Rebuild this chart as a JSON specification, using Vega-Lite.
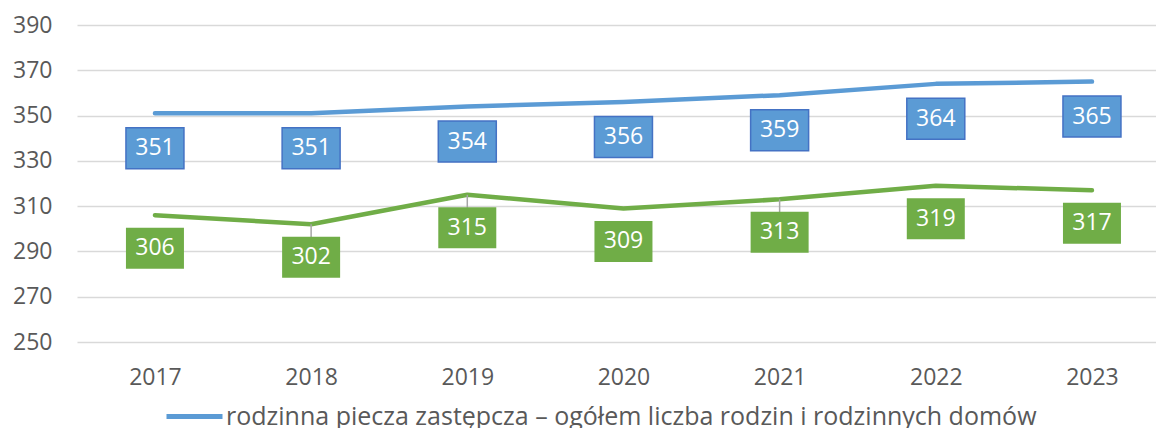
{
  "$schema": "https://vega.github.io/schema/vega-lite/v6.json",
  "autosize": {"type": "none"},
  "padding": {"left": 77, "top": 25, "right": 0, "bottom": 86},
  "width": 1079,
  "height": 317,
  "background": "white",
  "config": {"font": "Open Sans", "view": {"stroke": null}},
  "data": {"values": [
    {"year": "2017", "series": "rodzinna piecza zastępcza – ogółem liczba rodzin i rodzinnych domów", "value": 351},
    {"year": "2018", "series": "rodzinna piecza zastępcza – ogółem liczba rodzin i rodzinnych domów", "value": 351},
    {"year": "2019", "series": "rodzinna piecza zastępcza – ogółem liczba rodzin i rodzinnych domów", "value": 354},
    {"year": "2020", "series": "rodzinna piecza zastępcza – ogółem liczba rodzin i rodzinnych domów", "value": 356},
    {"year": "2021", "series": "rodzinna piecza zastępcza – ogółem liczba rodzin i rodzinnych domów", "value": 359},
    {"year": "2022", "series": "rodzinna piecza zastępcza – ogółem liczba rodzin i rodzinnych domów", "value": 364},
    {"year": "2023", "series": "rodzinna piecza zastępcza – ogółem liczba rodzin i rodzinnych domów", "value": 365},
    {"year": "2017", "series": "rodziny zastępcze", "value": 306},
    {"year": "2018", "series": "rodziny zastępcze", "value": 302},
    {"year": "2019", "series": "rodziny zastępcze", "value": 315},
    {"year": "2020", "series": "rodziny zastępcze", "value": 309},
    {"year": "2021", "series": "rodziny zastępcze", "value": 313},
    {"year": "2022", "series": "rodziny zastępcze", "value": 319},
    {"year": "2023", "series": "rodziny zastępcze", "value": 317}
  ]},
  "encoding": {
    "x": {
      "field": "year", "type": "ordinal",
      "scale": {"type": "point", "padding": 0.4546, "align": 0.549},
      "axis": {"title": null, "labelAngle": 0, "domain": false, "ticks": false, "grid": false,
               "labelFontSize": 23, "labelColor": "#595959", "labelPadding": 24, "labelFont": "Open Sans"}
    },
    "y": {
      "field": "value", "type": "quantitative",
      "scale": {"domain": [250, 390], "nice": false, "zero": false},
      "axis": {"title": null, "values": [250, 270, 290, 310, 330, 350, 370, 390], "domain": false, "ticks": false,
               "grid": true, "gridColor": "#D9D9D9", "gridWidth": 1.3,
               "labelFontSize": 23, "labelColor": "#595959", "labelPadding": 25, "labelFont": "Open Sans"}
    }
  },
  "layer": [
    {
      "mark": {"type": "line", "strokeWidth": 4.5, "strokeCap": "round", "strokeJoin": "round"},
      "encoding": {
        "color": {
          "field": "series", "type": "nominal",
          "scale": {"domain": ["rodzinna piecza zastępcza – ogółem liczba rodzin i rodzinnych domów", "rodziny zastępcze"], "range": ["#5B9BD5", "#70AD47"]},
          "legend": {
            "title": null, "orient": "none", "legendX": 87, "legendY": 361, "padding": 0,
            "values": ["rodzinna piecza zastępcza – ogółem liczba rodzin i rodzinnych domów"],
            "symbolType": "stroke", "symbolStrokeWidth": 5, "symbolSize": 3136, "labelOffset": 1,
            "labelFontSize": 25, "labelColor": "#595959", "labelLimit": 0, "labelFont": "Open Sans"
          }
        }
      }
    },
    {
      "transform": [{"filter": "datum.series == 'rodziny zastępcze' && (datum.year == '2018' || datum.year == '2019' || datum.year == '2021')"}],
      "mark": {"type": "rule", "color": "#A6A6A6", "strokeWidth": 1.5, "y2Offset": 13},
      "encoding": {"y2": {"field": "value"}}
    },
    {
      "transform": [{"filter": "datum.series != 'rodziny zastępcze'"}],
      "mark": {"type": "point", "shape": "M-1,-0.707L1,-0.707L1,0.707L-1,0.707Z", "size": 3364, "filled": true,
               "fill": "#5B9BD5", "stroke": "#4472C4", "strokeWidth": 1.5, "opacity": 1, "yOffset": 35}
    },
    {
      "transform": [{"filter": "datum.series == 'rodziny zastępcze'"}],
      "mark": {"type": "point", "shape": "M-1,-0.707L1,-0.707L1,0.707L-1,0.707Z", "size": 3364, "filled": true,
               "fill": "#70AD47", "strokeWidth": 0, "opacity": 1, "yOffset": 33}
    },
    {
      "transform": [{"filter": "datum.series != 'rodziny zastępcze'"}],
      "mark": {"type": "text", "color": "white", "fontSize": 23, "baseline": "middle", "align": "center", "yOffset": 35, "font": "Open Sans"},
      "encoding": {"text": {"field": "value", "type": "quantitative"}}
    },
    {
      "transform": [{"filter": "datum.series == 'rodziny zastępcze'"}],
      "mark": {"type": "text", "color": "white", "fontSize": 23, "baseline": "middle", "align": "center", "yOffset": 33, "font": "Open Sans"},
      "encoding": {"text": {"field": "value", "type": "quantitative"}}
    }
  ]
}
